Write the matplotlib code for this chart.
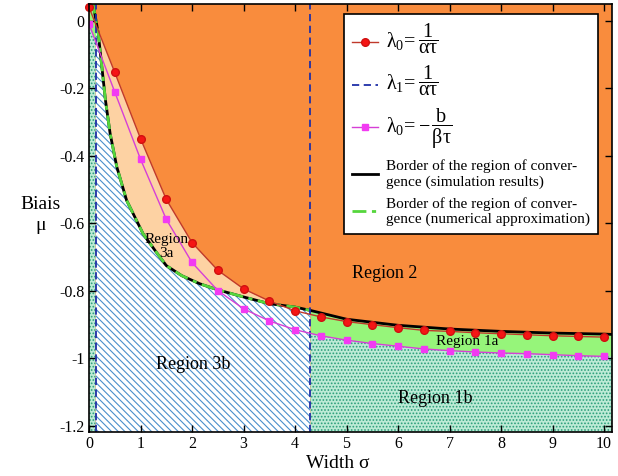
import numpy as np
import matplotlib
matplotlib.use("Agg")
import matplotlib.pyplot as plt

plt.rcParams['font.family'] = ['Liberation Serif', 'DejaVu Serif']
plt.rcParams['mathtext.fontset'] = 'custom'
plt.rcParams['mathtext.rm'] = 'Liberation Serif'
plt.rcParams['mathtext.it'] = 'Liberation Serif:italic'
plt.rcParams['mathtext.default'] = 'regular'
plt.rcParams['hatch.linewidth'] = 0.8

# ---- data ----
sigma = [0.0, 0.5, 1.0, 1.5, 2.0, 2.5, 3.0, 3.5, 4.0, 4.5, 5.0,
         5.5, 6.0, 6.5, 7.0, 7.5, 8.0, 8.5, 9.0, 9.5, 10.0]
lambda0_a = [0.04, -0.153, -0.349, -0.529, -0.657, -0.739, -0.794, -0.830, -0.859, -0.877, -0.891,
             -0.900, -0.909, -0.917, -0.920, -0.924, -0.927, -0.930, -0.933, -0.935, -0.937]
lambda0_b = [-0.01, -0.211, -0.410, -0.588, -0.716, -0.799, -0.853, -0.889, -0.915, -0.933, -0.946,
             -0.956, -0.964, -0.972, -0.977, -0.981, -0.984, -0.986, -0.989, -0.992, -0.994]

border_sigma = [0.0, 0.08, 0.18, 0.25, 0.32, 0.41, 0.54, 0.73, 1.05, 1.28, 1.5, 1.8, 2.15, 2.5,
                3.0, 3.5, 4.0, 4.3, 5.0, 6.0, 7.0, 8.0, 9.0, 10.0, 10.15]
border_mu = [0.05, 0.05, -0.038, -0.137, -0.236, -0.334, -0.433, -0.532, -0.631, -0.68, -0.725,
             -0.755, -0.779, -0.797, -0.818, -0.838, -0.848, -0.858, -0.884, -0.902, -0.913,
             -0.920, -0.925, -0.928, -0.929]

lambda1_sigma = [0.13, 4.3]

yticks = [0, -0.2, -0.4, -0.6, -0.8, -1, -1.2]
ytick_labels = ['0', '-0.2', '-0.4', '-0.6', '-0.8', '-1', '-1.2']
xticks = list(range(0, 11))

XMIN, XMAX = 0.0, 10.15
YMIN, YMAX = -1.218, 0.05

ORANGE = '#F98C3D'
PEACH = '#FDD2A3'
LGREEN = '#96F57A'
MINT = '#BDEBD6'
SPECK = '#2A9E7A'
HATCHBLUE = '#4A8FCB'

fig = plt.figure(figsize=(6.18, 4.76), dpi=100)
ax = fig.add_axes([0.144, 0.0924, 0.846, 0.8996])
ax.set_facecolor(ORANGE)

grid = np.linspace(XMIN, XMAX, 2000)
bord = np.interp(grid, border_sigma, border_mu)
red = np.interp(grid, sigma, lambda0_a)
mag = np.interp(grid, sigma, lambda0_b)
x1, x2 = lambda1_sigma

# region 3a
m = grid <= x2
ax.fill_between(grid[m], bord[m], red[m], where=red[m] > bord[m], color=PEACH, lw=0, zorder=1)
# region 3b (hatched)
m = (grid >= x1) & (grid <= x2)
ax.fill_between(grid[m], YMIN, bord[m], facecolor='white', edgecolor=HATCHBLUE,
                hatch='\\\\\\\\\\', lw=0, zorder=1)
# left strip
m = grid <= x1
low = np.minimum(bord[m], mag[m])
ax.fill_between(grid[m], low, bord[m], color=LGREEN, lw=0, zorder=1)
ax.fill_between(grid[m], YMIN, low, facecolor=MINT, edgecolor=SPECK, hatch='.....', lw=0, zorder=1)
# region 1a and 1b
m = grid >= x2
ax.fill_between(grid[m], mag[m], bord[m], color=LGREEN, lw=0, zorder=1)
ax.fill_between(grid[m], YMIN, mag[m], facecolor=MINT, edgecolor=SPECK, hatch='.....', lw=0, zorder=1)

# curves
l_red, = ax.plot(sigma, lambda0_a, color='#C0392B', lw=1.0, marker='o', ms=5.5,
                 mfc='#F51515', mec='#D01010', zorder=5, clip_on=False)
l_blue = None
for xv in lambda1_sigma:
    l_blue = ax.axvline(xv, color='#1F2FA8', lw=1.3, ls=(0, (4, 2.5)), zorder=4)
l_mag, = ax.plot(sigma, lambda0_b, color='#D63FD6', lw=1.0, marker='s', ms=4.5,
                 mfc='#F23AF2', mec='#F23AF2', zorder=5)
l_blk, = ax.plot(border_sigma, border_mu, color='black', lw=2.0, zorder=3)
mb = np.array(border_sigma) <= x2
l_grn, = ax.plot(np.array(border_sigma)[mb], np.array(border_mu)[mb], color='#55D63C', lw=2.0,
                 ls=(0, (5, 2, 1.5, 2)), zorder=3.5)

ax.set_xlim(XMIN, XMAX)
ax.set_ylim(YMIN, YMAX)
ax.set_xticks(xticks)
ax.set_yticks(yticks)
ax.set_yticklabels(ytick_labels)
ax.tick_params(direction='in', top=True, right=True, length=5, width=1.0,
               labelsize=11.5, pad=3)
for s in ax.spines.values():
    s.set_linewidth(1.2)
    s.set_zorder(10)

# region labels
ax.text(5.75, -0.75, 'Region 2', fontsize=13, ha='center', va='center', zorder=6)
ax.text(2.02, -1.018, 'Region 3b', fontsize=13, ha='center', va='center', zorder=6)
ax.text(6.72, -1.118, 'Region 1b', fontsize=13, ha='center', va='center', zorder=6)
ax.text(7.34, -0.95, 'Region 1a', fontsize=11, ha='center', va='center', zorder=6)
ax.text(1.5, -0.668, 'Region\n3a', fontsize=11, ha='center', va='center', zorder=6,
        linespacing=1.05)

# axis labels
fig.text(0.065, 0.548, 'Biais\n\u03bc', fontsize=14, ha='center', va='center', linespacing=1.35)
fig.text(0.547, 0.027, 'Width \u03c3', fontsize=14, ha='center', va='center')

labels = [r'$\lambda_0\!= \dfrac{1}{\alpha\tau}$',
          r'$\lambda_1\!= \dfrac{1}{\alpha\tau}$',
          r'$\lambda_0\!= -\,\dfrac{b}{\beta\tau}$',
          'Border of the region of conver-\ngence (simulation results)',
          'Border of the region of conver-\ngence (numerical approximation)']
leg = ax.legend([l_red, l_blue, l_mag, l_blk, l_grn], labels, loc='upper right',
                bbox_to_anchor=(0.973, 0.977), borderaxespad=0, fontsize=11,
                frameon=True, fancybox=False, framealpha=1, edgecolor='black',
                handlelength=1.75, handletextpad=0.5, labelspacing=0.55, borderpad=0.5)
for t in leg.get_texts()[:3]:
    t.set_fontsize(14.5)
leg.get_frame().set_linewidth(1.2)
leg.set_zorder(20)

fig.savefig('out.png', dpi=100)
